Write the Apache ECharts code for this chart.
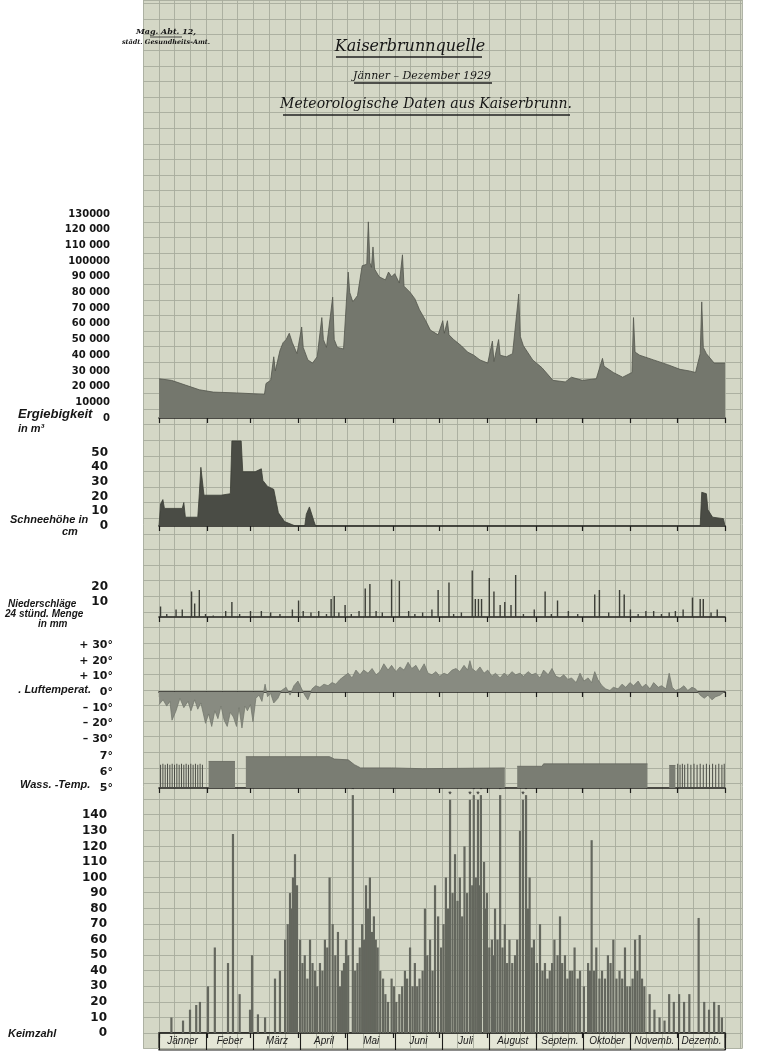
<!DOCTYPE html>
<html>
<head>
<meta charset="utf-8">
<title>Kaiserbrunnquelle</title>
<script src="https://cdn.jsdelivr.net/npm/echarts@6/dist/echarts.min.js"></script>
<style>
  html, body { margin: 0; padding: 0; background: #fff; }
  #chart { width: 760px; height: 1051px; }
</style>
</head>
<body>
<div id="chart"></div>
<script>
// Tage im Jahr, an denen die Monate beginnen
const monthStarts = [0, 31, 59, 90, 120, 151, 181, 212, 243, 273, 304, 334, 365];
const months = ['Jänner', 'Feber', 'März', 'April', 'Mai', 'Juni', 'Juli', 'August', 'Septem.', 'Oktober', 'Novemb.', 'Dezemb.'];
const ergLabels = ['0', '10000', '20 000', '30 000', '40 000', '50 000', '60 000', '70 000', '80 000', '90 000', '100000', '110 000', '120 000', '130000'];

// Ergiebigkeit in m3  [Tag, Wert]
const ergiebigkeit = [[0,25000],[8,24000],[17,21000],[26,18000],[35,16500],[50,16000],[60,15500],[68,15000],[69,22000],[72,24000],[74,39000],[75,30000],[78,43000],[80,48000],[82,50000],[84,54000],[86,48000],[89,41000],[92,58000],[93,45000],[96,37000],[99,35000],[102,39000],[105,64000],[106,50000],[108,45000],[112,77000],[113,50000],[115,45000],[119,44000],[122,93000],[123,80000],[125,74000],[128,78000],[131,97000],[134,98000],[135,125000],[136,99000],[137,96000],[138,109000],[139,95000],[142,90000],[146,88000],[148,93000],[150,90000],[152,92000],[155,86000],[157,104000],[158,84000],[162,80000],[165,76000],[168,69000],[172,62000],[175,56000],[180,53000],[183,62000],[184,54000],[186,62000],[187,53000],[190,50000],[195,46000],[199,42000],[203,40000],[207,37000],[212,35000],[215,49000],[216,36000],[219,50000],[220,40000],[224,39000],[228,41000],[232,79000],[233,52000],[235,46000],[241,37000],[247,32000],[254,24000],[262,23000],[266,26000],[273,24000],[282,25000],[286,38000],[287,33000],[293,29000],[299,26000],[305,29000],[306,64000],[307,42000],[310,40000],[319,37000],[328,34000],[336,31000],[342,30000],[346,29000],[349,41000],[350,74000],[351,45000],[353,41000],[358,35000],[365,35000]];

// Schneehöhe in cm
const schnee = [[0,0],[1,15],[2.5,18],[3.5,12],[15,12],[16,16],[17,6],[25,6],[26,22],[27,40],[28,40],[29,21],[40,21],[41,22],[46,22],[47,58],[53,58],[54,37],[62,37],[66,39],[67,31],[70,27],[74,25],[77,9],[81,3],[88,0],[94,0],[95,8],[97,13],[100,3],[101,0],[349,0],[350,23],[353,22],[354,11],[357,6],[364,5],[365,0]];

// Niederschläge, 24stünd. Menge in mm
const niederschlag = [[1,7],[5,2],[11,5],[15,5],[21,17],[23,9],[26,18],[30,2],[35,1],[43,4],[47,10],[52,2],[59,4],[66,4],[72,3],[78,2],[86,5],[90,11],[93,4],[98,3],[103,4],[108,2],[111,12],[113,14],[116,3],[120,8],[124,2],[129,4],[133,19],[136,22],[140,4],[144,3],[150,25],[155,24],[161,4],[165,2],[170,3],[176,5],[180,18],[187,23],[190,2],[195,3],[202,31],[204,12],[206,12],[208,12],[213,26],[216,17],[220,8],[223,10],[227,8],[230,28],[235,2],[242,5],[249,17],[253,2],[257,11],[264,4],[270,2],[281,15],[284,18],[290,3],[297,18],[300,15],[304,5],[309,2],[314,4],[319,4],[324,2],[329,3],[333,4],[338,5],[344,13],[349,12],[351,12],[356,3],[360,5]];

// Lufttemperatur in Grad
const luftTemp = [[0,-8],[2.6,-5],[5,-9],[7,-6],[8.4,-18],[11,-12],[13.5,-4],[16,-10],[18.7,-6],[20.6,-12],[23,-5],[25,-11],[27,-7],[30,-20],[32,-14],[34,-22],[36,-12],[38,-17],[40,-9],[42,-18],[44,-22],[46,-13],[48,-16],[50,-22],[51.6,-10],[53.5,-23],[55.5,-9],[57,-12],[59,-8],[60.6,-19],[62.5,-4],[64.5,-2],[66.4,-6],[68.4,5],[70,-3],[72,-1],[74,-7],[76.7,-4],[79,1],[82,3],[84.5,-2],[87,4],[89.6,7],[92,2],[94,-2],[96,-5],[98.7,2],[101,4],[103.8,3],[106.4,5],[109,4],[111.6,6],[114,5],[116.7,8],[119.3,10],[122,12],[124.5,9],[127,14],[129.6,11],[132,14],[134.8,12],[137.4,15],[140,11],[142.5,13],[145,18],[147.7,14],[150,17],[152.8,13],[155.4,16],[158,14],[160.6,19],[163,15],[165.7,17],[168,13],[171,18],[173.5,12],[176,11],[178.6,13],[181,10],[183.8,12],[186,11],[189,14],[191.5,15],[194,13],[196.7,17],[199,14],[200.5,20],[201.8,15],[204.4,13],[207,16],[209.6,12],[212,14],[214.7,10],[217,12],[220,9],[222.5,12],[225,10],[227.6,13],[230,11],[232.8,12],[235,10],[238,13],[240.5,11],[243,12],[245.7,9],[248,14],[251,11],[253.4,15],[256,10],[258.6,9],[261,11],[263.7,8],[266,9],[269,6],[271.5,12],[274,7],[276.7,9],[279,6],[281,13],[283,8],[285.7,4],[288,2],[290.8,1],[293,3],[296,2],[298.6,5],[301,3],[303.7,6],[306,4],[309,7],[311.5,3],[314,5],[316.6,2],[319,6],[322,3],[324,4],[327,2],[329,12],[331,3],[333,1],[336,2],[338.5,4],[341,1],[343.7,3],[346,2],[349,-2],[351.6,-4],[354,-2],[356.6,-5],[359,-3],[361.8,-2],[364.4,0]];

// Wassertemperatur: Flächen und einzelne Messungen
const wassFlaeche = [[32,6.65],[49,6.65],[49.5,'-'],[56,6.95],[110,6.95],[113,6.8],[122,6.75],[126,6.45],[130,6.25],[150,6.25],[170,6.2],[223,6.25],[223.5,'-'],[231,6.35],[247,6.35],[248,6.5],[315,6.5],[315.5,'-'],[329,6.4],[333,6.4]];
const wassMessung = [[1,6.45],[2.5,6.5],[4,6.45],[5.5,6.5],[7,6.45],[8.5,6.5],[10,6.45],[11.5,6.5],[13,6.45],[14.5,6.5],[16,6.45],[17.5,6.5],[19,6.45],[20.5,6.5],[22,6.45],[23.5,6.5],[25,6.45],[26.5,6.5],[28,6.45],[334.5,6.5],[336,6.45],[337.5,6.5],[339,6.45],[341,6.5],[343,6.45],[345,6.5],[347,6.45],[349,6.5],[351,6.45],[353,6.5],[355,6.45],[357,6.5],[359,6.45],[361,6.5],[363,6.45],[364.5,6.5]];

// Keimzahl
const keimzahl = [[8,10],[15.5,8],[20,15],[24,18],[26.4,20],[31.6,30],[36,55],[44.5,45],[47.7,128],[52,25],[58.7,15],[60,50],[63.8,12],[68.4,10],[74.8,35],[78,40],[81.3,60],[83,70],[84.5,90],[85.5,80],[86.4,100],[87.7,115],[89,95],[91,60],[92.5,45],[94,50],[95.7,35],[97.4,60],[99,45],[100.6,40],[102,30],[103.8,45],[105.4,40],[107,60],[108.5,55],[110,100],[112,70],[113.7,50],[115.4,65],[116.7,30],[118,40],[119.3,45],[120.6,60],[122,50],[125,153],[126.5,40],[128,45],[129.5,55],[131,70],[132.2,60],[133.5,95],[134.7,80],[136,100],[137.3,65],[138.6,75],[139.8,60],[141,55],[142.7,40],[144.5,35],[146,25],[147.7,20],[150,35],[151.5,30],[153,20],[155,25],[156.8,30],[158.6,40],[160,35],[161.9,55],[163.5,30],[165,45],[166.5,30],[168,35],[170,40],[171.5,80],[173,50],[174.8,60],[176.4,40],[178,95],[180,75],[181.9,55],[183.5,70],[185,100],[186.3,80],[187.7,150],[189.3,90],[190.9,115],[192.5,85],[194,100],[195.5,75],[197,120],[198.7,90],[200.5,150],[202,95],[203,153],[204.3,100],[205.7,150],[206.7,95],[207.6,153],[209.6,110],[210.5,80],[211.5,90],[213,55],[214.7,60],[215.7,50],[216.7,80],[218.3,60],[220,153],[221.5,55],[223,70],[224.5,45],[226,60],[227.8,45],[229.6,50],[231,60],[232.8,130],[234.7,150],[236.7,153],[238,80],[239,100],[240.4,55],[241.8,60],[243.7,45],[245.7,70],[247.3,40],[248.9,45],[250.5,35],[252,40],[253.5,45],[255,60],[257,50],[258.6,75],[260,45],[261.8,50],[263.4,35],[265,40],[266.5,40],[268,55],[270,35],[271.5,40],[274,30],[276.7,45],[278,40],[279,124],[280.5,40],[282,55],[284,35],[285.7,40],[287.6,35],[289.5,50],[291.2,45],[293,60],[295,35],[297,40],[298.7,35],[300.5,55],[302,30],[303.8,30],[305.4,35],[307,60],[308.5,40],[310,63],[311.5,35],[313,30],[316.4,25],[319.5,15],[322.8,10],[326,8],[329,25],[332,20],[335.4,25],[338.6,20],[342,25],[348,74],[351.6,20],[354.7,15],[358,20],[361,18],[363,10]];

var chart = echarts.init(document.getElementById('chart'));

var INK = '#1c1c1a';

function dayAxis(gi) {
  return {
    type: 'value', gridIndex: gi, min: 0, max: 365,
    axisLine: { show: true, onZero: true, lineStyle: { color: INK, width: 1.6 } },
    axisTick: { show: true, customValues: monthStarts, length: 5, lineStyle: { color: INK, width: 1.2 } },
    axisLabel: { show: false },
    splitLine: { show: false }
  };
}
function valAxis(gi, min, max, interval, fmt, margin, size) {
  return {
    type: 'value', gridIndex: gi, min: min, max: max, interval: interval,
    axisLine: { show: false }, axisTick: { show: false }, splitLine: { show: false },
    axisLabel: { margin: margin, formatter: fmt, showMaxLabel: true,
      color: '#151515', fontWeight: 'bold', fontFamily: 'DejaVu Sans', fontSize: size }
  };
}

// Titel und Beschriftungen links
var script = '"DejaVu Serif"';
var sideFont = 'italic bold 11px "Liberation Sans"';
var texts = [
  ['Mag. Abt. 12,', 166, 32, 'italic bold 8px ' + script, 'center'],
  ['städt. Gesundheits-Amt.', 166, 42, 'italic bold 6.5px ' + script, 'center'],
  ['Kaiserbrunnquelle', 410, 47, 'italic 16px ' + script, 'center'],
  ['Jänner – Dezember 1929', 422, 76, 'italic 11px ' + script, 'center'],
  ['Meteorologische Daten aus Kaiserbrunn.', 426, 104, 'italic 14px ' + script, 'center'],
  ['Ergiebigkeit', 18, 414, 'italic bold 13px "Liberation Sans"', 'left'],
  ['in m³', 18, 429, 'italic bold 11px "Liberation Sans"', 'left'],
  ['Schneehöhe in', 10, 520, sideFont, 'left'],
  ['cm', 62, 532, sideFont, 'left'],
  ['Niederschläge', 8, 604, 'italic bold 10px "Liberation Sans"', 'left'],
  ['24 stünd. Menge', 5, 614, 'italic bold 10px "Liberation Sans"', 'left'],
  ['in mm', 38, 624, 'italic bold 10px "Liberation Sans"', 'left'],
  ['. Luftemperat.', 91, 690, sideFont, 'right'],
  ['Wass. -Temp.', 20, 785, sideFont, 'left'],
  ['Keimzahl', 8, 1034, sideFont, 'left']
];
var graphics = texts.map(function (t) {
  return { type: 'text', x: t[1], y: t[2], z: 10,
    style: { text: t[0], font: t[3], fill: '#161616', textAlign: t[4], textVerticalAlign: 'middle' } };
});
[[336, 57, 482], [354, 83, 492], [283, 115, 570]].forEach(function (u) {
  graphics.push({ type: 'line', z: 10, shape: { x1: u[0], y1: u[1], x2: u[2], y2: u[1] }, style: { stroke: '#222', lineWidth: 1.3 } });
});
graphics.push({ type: 'line', z: 10, shape: { x1: 150, y1: 37, x2: 182, y2: 37 }, style: { stroke: '#222', lineWidth: 0.8 } });

var option = {
  backgroundColor: '#ffffff',
  animation: false,
  graphic: graphics,
  grid: [
    { left: 143.3, right: 18, top: 0, bottom: 2.4, show: true, borderWidth: 0, backgroundColor: '#d4d7c6' }, // Papier
    { left: 159, right: 35, top: 214, height: 204 },
    { left: 159, right: 35, top: 438, height: 88 },
    { left: 159, right: 35, top: 569, height: 48 },
    { left: 159, right: 35, top: 645, height: 94 },
    { left: 159, right: 35, top: 751, height: 37 },
    { left: 159, right: 35, top: 792, height: 241 },
    { left: 159, right: 35, top: 1033, height: 17, show: true, borderColor: INK, borderWidth: 1.2, backgroundColor: '#e4e6d6' }
  ],
  xAxis: [
    { type: 'value', gridIndex: 0, min: 0, max: 38.08, interval: 1,
      axisLine: { show: false }, axisTick: { show: false }, axisLabel: { show: false },
      splitLine: { show: true, lineStyle: { color: '#a7ab9d', width: 0.9 } } },
    dayAxis(1), dayAxis(2), dayAxis(3), dayAxis(4), dayAxis(5), dayAxis(6),
    { type: 'category', gridIndex: 7, data: months, boundaryGap: true, position: 'bottom',
      axisLine: { show: false }, axisTick: { show: false },
      splitLine: { show: true, lineStyle: { color: INK, width: 1.1 } },
      axisLabel: { margin: -14, interval: 0, color: '#1a1a1a', fontStyle: 'italic', fontSize: 10, fontFamily: 'Liberation Sans' } }
  ],
  yAxis: [
    { type: 'value', gridIndex: 0, min: 0, max: 67.22, interval: 1,
      axisLine: { show: false }, axisTick: { show: false }, axisLabel: { show: false },
      splitLine: { show: true, lineStyle: { color: '#a7ab9d', width: 0.9 } } },
    valAxis(1, 0, 130000, 10000, function (v) { return ergLabels[Math.round(v / 10000)]; }, 49, 10),
    valAxis(2, 0, 60, 10, function (v) { return v <= 50 ? String(v) : ''; }, 51, 12),
    valAxis(3, 0, 32, 10, function (v) { return (v === 10 || v === 20) ? String(v) : ''; }, 51, 12),
    valAxis(4, -30, 30, 10, function (v) { return v > 0 ? '+ ' + v + '°' : (v < 0 ? '– ' + (-v) + '°' : '0°'); }, 46, 11),
    valAxis(5, 5, 7.3, 1, function (v) { return Number.isInteger(v) ? v + '°' : ''; }, 46, 11),
    valAxis(6, 0, 155, 10, function (v) { return v <= 140 ? String(v) : ''; }, 52, 12),
    { type: 'value', gridIndex: 7, show: false }
  ],
  series: [
    { name: 'Ergiebigkeit', type: 'line', xAxisIndex: 1, yAxisIndex: 1, data: ergiebigkeit, symbol: 'none',
      lineStyle: { color: '#53564d', width: 0.8 }, areaStyle: { color: '#74776d', opacity: 1 } },
    { name: 'Schneehöhe', type: 'line', xAxisIndex: 2, yAxisIndex: 2, data: schnee, symbol: 'none',
      lineStyle: { color: '#3a3c35', width: 0.8 }, areaStyle: { color: '#4a4c45', opacity: 1 } },
    { name: 'Niederschläge', type: 'bar', xAxisIndex: 3, yAxisIndex: 3, data: niederschlag, barWidth: 1.4,
      itemStyle: { color: '#3b3d36' } },
    { name: 'Lufttemperatur', type: 'line', xAxisIndex: 4, yAxisIndex: 4, data: luftTemp, symbol: 'none',
      lineStyle: { color: '#6f7268', width: 0.7 }, areaStyle: { color: '#888b81', opacity: 1 } },
    { name: 'Wassertemperatur', type: 'line', xAxisIndex: 5, yAxisIndex: 5, data: wassFlaeche, symbol: 'none',
      connectNulls: false, lineStyle: { color: '#63665d', width: 0.8 }, areaStyle: { color: '#7a7d73', opacity: 1, origin: 'start' } },
    { name: 'Wassertemperatur Messung', type: 'bar', xAxisIndex: 5, yAxisIndex: 5, data: wassMessung, barWidth: 1,
      itemStyle: { color: '#4c4e47' } },
    { name: 'Keimzahl', type: 'bar', xAxisIndex: 6, yAxisIndex: 6, data: keimzahl, barWidth: 2.2,
      itemStyle: { color: '#64675e' },
      label: { show: true, position: 'top', distance: 1, fontSize: 9, color: '#222',
        formatter: function (p) { return p.value[1] >= 150 ? '*' : ''; } } }
  ]
};
chart.setOption(option);
</script>
</body>
</html>
